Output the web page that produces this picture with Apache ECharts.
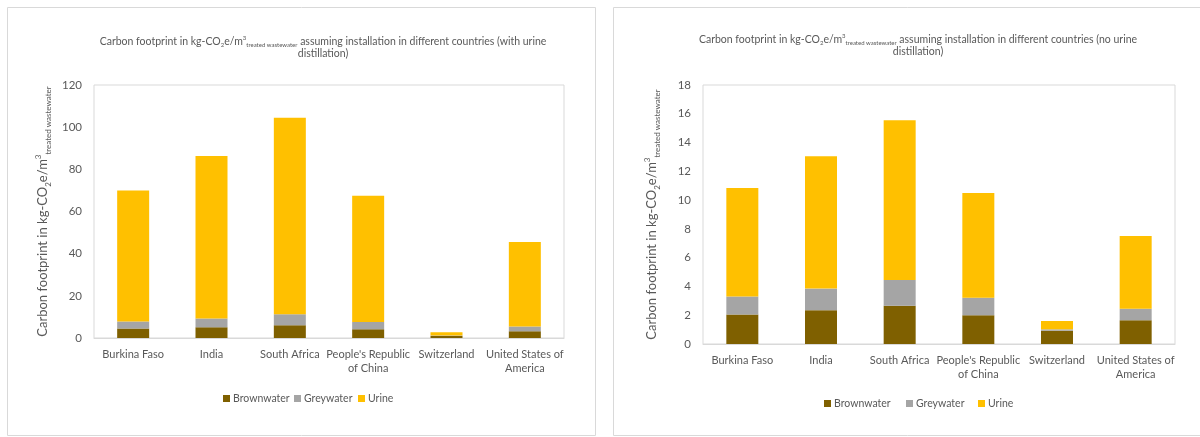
<!DOCTYPE html>
<html><head><meta charset="utf-8">
<script src="https://cdn.jsdelivr.net/npm/echarts@6/dist/echarts.min.js"></script>
<style>html,body{margin:0;padding:0;background:#fff}#c{width:1200px;height:437px}</style>
</head><body><div id="c"></div>
<script>
const categories = ['Burkina Faso', 'India', 'South Africa', "People's Republic\nof China", 'Switzerland', 'United States of\nAmerica'];
const seriesNames = ['Brownwater', 'Greywater', 'Urine'];
const brownWith = [4.5, 5.1, 6.0, 4.1, 0.9, 3.2];
const greyWith = [3.3, 4.2, 5.3, 3.5, 0.3, 2.2];
const urineWith = [62.2, 77.0, 93.2, 59.9, 1.5, 40.1];
const brownNo = [2.05, 2.35, 2.65, 2.0, 0.92, 1.65];
const greyNo = [1.25, 1.5, 1.8, 1.22, 0.1, 0.8];
const urineNo = [7.55, 9.2, 11.1, 7.28, 0.58, 5.05];
const yTicksWith = {min: 0, max: 120, interval: 20};
const yTicksNo = {min: 0, max: 18, interval: 2};

const colors = ['#7f6000', '#a5a5a5', '#ffc000'];
const FONT = 'Lato';
const txt = '#595959';
const rich = {
  n: {fontFamily: FONT, fontSize: 10.5, fontWeight: 'normal', color: txt},
  sub: {fontFamily: FONT, fontSize: 6, fontWeight: 'normal', color: txt, verticalAlign: 'bottom', lineHeight: 13},
  sup: {fontFamily: FONT, fontSize: 6, fontWeight: 'normal', color: txt, verticalAlign: 'top', lineHeight: 13}
};
const axRich = {
  n: {fontFamily: FONT, fontSize: 13, color: txt},
  sub: {fontFamily: FONT, fontSize: 8, color: txt, verticalAlign: 'bottom', lineHeight: 18},
  sup: {fontFamily: FONT, fontSize: 8, color: txt, verticalAlign: 'top', lineHeight: 18}
};
function titleText(tail) {
  return '{n|Carbon footprint in kg-CO}{sub|2}{n|e/m}{sup|3}{sub|treated wastewater}{n| assuming installation in different countries (' + tail + ' urine}\n{n|distillation)}';
}
const yName = '{n|Carbon footprint in kg-CO}{sub|2}{n|e/m}{sup|3}{sub|treated wastewater}';

function yAxis(idx, t) {
  return {
    type: 'value', gridIndex: idx, min: t.min, max: t.max, interval: t.interval,
    splitLine: {show: false}, axisLine: {show: false}, axisTick: {show: false},
    axisLabel: {fontFamily: FONT, fontSize: 11.5, color: txt, margin: 12},
    name: yName, nameLocation: 'middle', nameGap: 42, nameRotate: 90,
    nameTextStyle: {rich: axRich}
  };
}
function xAxis(idx) {
  return {
    type: 'category', gridIndex: idx, data: categories,
    axisLine: {lineStyle: {color: '#d9d9d9'}}, axisTick: {show: false},
    axisLabel: {fontFamily: FONT, fontSize: 11, color: txt, interval: 0, margin: 9, lineHeight: 14}
  };
}
function bars(idx, arrs) {
  return arrs.map((d, i) => ({
    name: seriesNames[i], type: 'bar', stack: 's' + idx, xAxisIndex: idx, yAxisIndex: idx,
    data: d, barWidth: 32, itemStyle: {color: colors[i]}
  }));
}
function legendItem(name, left, top) {
  return {data: [name], left: left, top: top, itemWidth: 7, itemHeight: 7, icon: 'rect', padding: 0,
    textStyle: {fontFamily: FONT, fontSize: 10.5, color: txt, padding: [0, 0, 0, -2]}};
}
const chart = echarts.init(document.getElementById('c'), null, {renderer: 'canvas'});
chart.setOption({
  animation: false,
  color: colors,
  graphic: [
    {type: 'rect', shape: {x: 7.5, y: 7.5, width: 588, height: 428}, style: {fill: 'none', stroke: '#d9d9d9', lineWidth: 1}},
    {type: 'rect', shape: {x: 613.5, y: 7.5, width: 590, height: 428}, style: {fill: 'none', stroke: '#d9d9d9', lineWidth: 1}}
  ],
  title: [
    {text: titleText('with'), left: 318, top: 30, textAlign: 'center', textStyle: {rich: rich, lineHeight: 12, fontWeight: 'normal'}},
    {text: titleText('no'), left: 913, top: 28, textAlign: 'center', textStyle: {rich: rich, lineHeight: 12, fontWeight: 'normal'}}
  ],
  legend: [
    legendItem('Brownwater', 223, 393), legendItem('Greywater', 294, 393), legendItem('Urine', 358, 393),
    legendItem('Brownwater', 824, 398), legendItem('Greywater', 906, 398), legendItem('Urine', 978, 398)
  ],
  grid: [
    {left: 94, right: 636, top: 85, bottom: 99, show: true, borderColor: '#d9d9d9', borderWidth: 1, backgroundColor: 'transparent'},
    {left: 703, right: 25, top: 85, bottom: 93, show: true, borderColor: '#d9d9d9', borderWidth: 1, backgroundColor: 'transparent'}
  ],
  xAxis: [xAxis(0), xAxis(1)],
  yAxis: [yAxis(0, yTicksWith), yAxis(1, yTicksNo)],
  series: [...bars(0, [brownWith, greyWith, urineWith]), ...bars(1, [brownNo, greyNo, urineNo])]
});
</script></body></html>
